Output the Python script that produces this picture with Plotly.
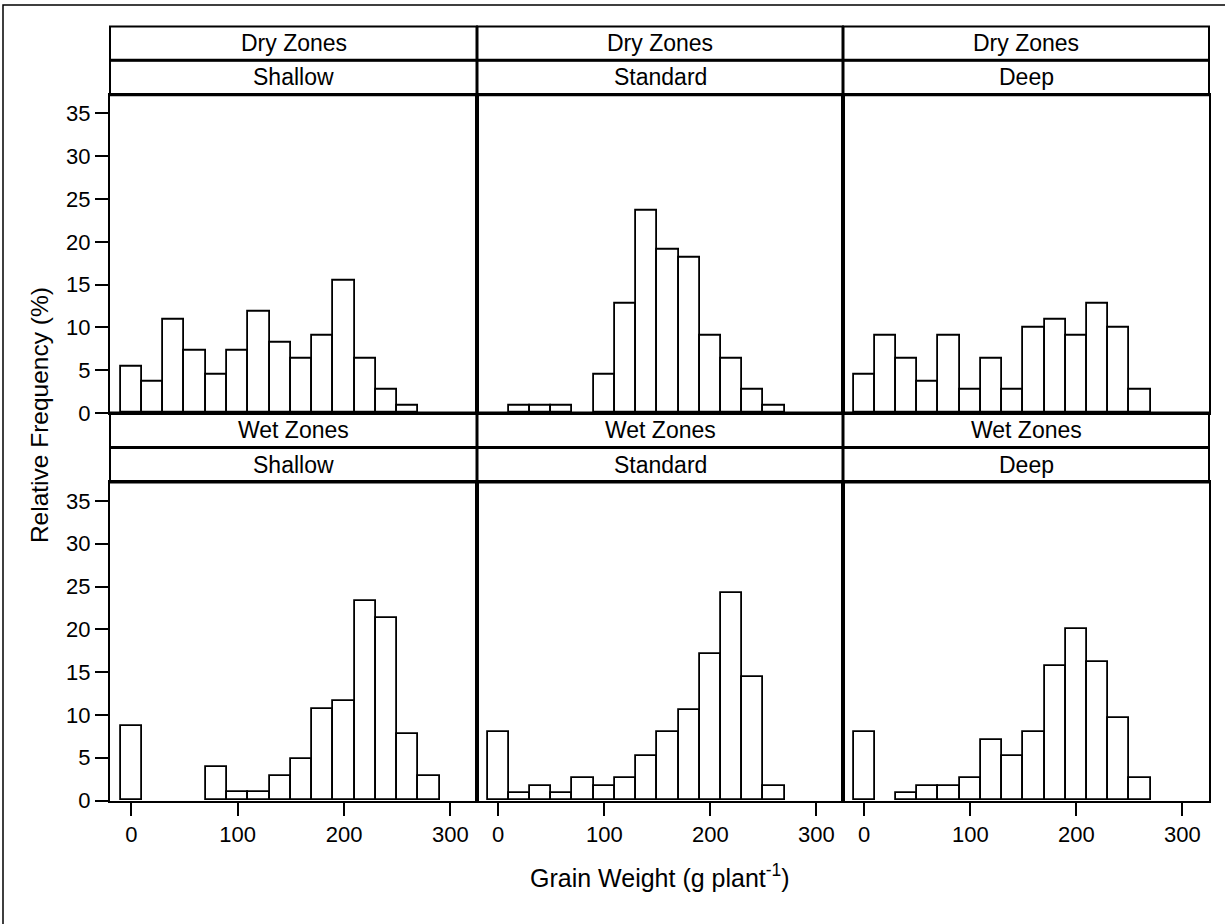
import plotly.graph_objects as go

# Bin midpoints of grain weight (g plant^-1), bin width 20
bin_centers = [0, 20, 40, 60, 80, 100, 120, 140, 160, 180, 200, 220, 240, 260, 280]
bin_width = 20

# Relative frequency (%) per bin
dry_shallow = [5.45, 3.64, 10.91, 7.27, 4.55, 7.27, 11.82, 8.18, 6.36, 9.09, 15.45, 6.36, 2.73, 0.91, 0]
dry_standard = [0, 0.91, 0.91, 0.91, 0, 4.55, 12.73, 23.64, 19.09, 18.18, 9.09, 6.36, 2.73, 0.91, 0]
dry_deep = [4.55, 9.09, 6.36, 3.64, 9.09, 2.73, 6.36, 2.73, 10.0, 10.91, 9.09, 12.73, 10.0, 2.73, 0]
wet_shallow = [8.74, 0, 0, 0, 3.88, 0.97, 0.97, 2.91, 4.85, 10.68, 11.65, 23.30, 21.36, 7.77, 2.91]
wet_standard = [7.96, 0.87, 1.74, 0.87, 2.61, 1.74, 2.61, 5.22, 7.96, 10.6, 17.1, 24.2, 14.4, 1.74, 0]
wet_deep = [7.96, 0, 0.87, 1.74, 1.74, 2.61, 7.04, 5.22, 7.96, 15.65, 20.08, 16.19, 9.69, 2.61, 0]

zones = ["Dry Zones", "Wet Zones"]
depths = ["Shallow", "Standard", "Deep"]
panel_data = [[dry_shallow, dry_standard, dry_deep],
              [wet_shallow, wet_standard, wet_deep]]

x_ticks = [0, 100, 200, 300]
y_ticks = [0, 5, 10, 15, 20, 25, 30, 35]
x_range = [-20, 325]
y_range = [0, 37.2]

W, H = 1225, 924
FONT = "Liberation Sans, Arial, sans-serif"

# Pixel layout of the 2x3 grid
col_edges = [(110, 477), (477, 843), (843, 1209)]
row_plot = [(96, 419), (489, 812)]
row_head = [(27, 61, 96), (419, 454, 489)]


def px(x):
    return x / W


def py(y):
    return 1 - y / H


fig = go.Figure()
shapes = []
annotations = []

for r in range(2):
    for c in range(3):
        idx = r * 3 + c + 1
        xa = "x" if idx == 1 else f"x{idx}"
        ya = "y" if idx == 1 else f"y{idx}"
        vals = panel_data[r][c]
        xs = [b for b, v in zip(bin_centers, vals) if v > 0]
        ys = [v for v in vals if v > 0]
        fig.add_trace(go.Bar(
            x=xs, y=ys, width=bin_width,
            marker=dict(color="white", line=dict(color="black", width=1.8)),
            xaxis=xa, yaxis=ya, showlegend=False, hoverinfo="x+y",
        ))
        x0, x1 = col_edges[c]
        y0, y1 = row_plot[r]
        xkey = "xaxis" if idx == 1 else f"xaxis{idx}"
        ykey = "yaxis" if idx == 1 else f"yaxis{idx}"
        fig.layout[xkey] = dict(
            domain=[px(x0), px(x1)], range=x_range, anchor=ya,
            showgrid=False, zeroline=False,
            showline=True, mirror=True, linecolor="black", linewidth=2,
            tickvals=x_ticks if r == 1 else [],
            ticks="outside" if r == 1 else "", ticklen=13, tickwidth=1.5, tickcolor="black",
            showticklabels=(r == 1),
            tickfont=dict(family=FONT, size=22, color="black"),
        )
        fig.layout[ykey] = dict(
            domain=[py(y1), py(y0)], range=y_range, anchor=xa,
            showgrid=False, zeroline=False,
            showline=True, mirror=True, linecolor="black", linewidth=2,
            tickvals=y_ticks if c == 0 else [],
            ticks="outside" if c == 0 else "", ticklen=13, tickwidth=1.5, tickcolor="black",
            showticklabels=(c == 0),
            tickfont=dict(family=FONT, size=22, color="black"),
        )

        # Two-level header cells above each panel
        h0, hm, h1 = row_head[r]
        for (ya0, ya1, label) in [(h0, hm, zones[r]), (hm, h1, depths[c])]:
            shapes.append(dict(type="rect", xref="paper", yref="paper",
                               x0=px(x0), x1=px(x1), y0=py(ya1), y1=py(ya0),
                               line=dict(color="black", width=2), fillcolor="white",
                               layer="below"))
            annotations.append(dict(xref="paper", yref="paper",
                                    x=px((x0 + x1) / 2), y=py((ya0 + ya1) / 2),
                                    text=label, showarrow=False,
                                    xanchor="center", yanchor="middle",
                                    font=dict(family=FONT, size=23, color="black")))

# Heavier rules where neighbouring cells meet
sep_w = 3
for xs in (477, 843):
    shapes.append(dict(type="line", xref="paper", yref="paper",
                       x0=px(xs), x1=px(xs), y0=py(812), y1=py(27),
                       line=dict(color="black", width=sep_w)))
for ys in (61, 96, 419, 454, 489):
    shapes.append(dict(type="line", xref="paper", yref="paper",
                       x0=px(110), x1=px(1209), y0=py(ys), y1=py(ys),
                       line=dict(color="black", width=sep_w)))

# Outer frame of the graphic (left and top edges fall inside the page)
shapes.append(dict(type="rect", xref="paper", yref="paper",
                   x0=px(3), x1=px(1260), y0=py(960), y1=py(5),
                   line=dict(color="black", width=1.5)))

annotations.append(dict(xref="paper", yref="paper", x=px(39), y=py(421),
                        text="Relative Frequency (%)", showarrow=False, textangle=-90,
                        xanchor="center", yanchor="middle",
                        font=dict(family=FONT, size=24.5, color="black")))
annotations.append(dict(xref="paper", yref="paper", x=px(660), y=py(889),
                        text="Grain Weight (g plant<sup>-1</sup>)", showarrow=False,
                        xanchor="center", yanchor="middle",
                        font=dict(family=FONT, size=25, color="black")))

fig.update_layout(
    width=W, height=H,
    margin=dict(l=0, r=0, t=0, b=0),
    paper_bgcolor="white", plot_bgcolor="white",
    bargap=0, barmode="overlay",
    shapes=shapes, annotations=annotations,
)

fig.write_html("out.html")
